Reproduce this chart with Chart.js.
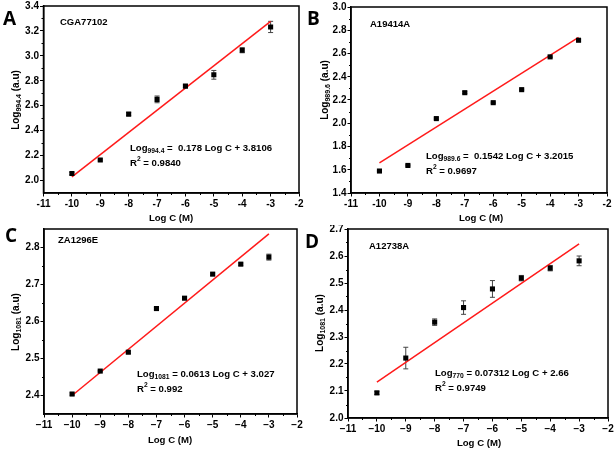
<!DOCTYPE html>
<html>
<head>
<meta charset="utf-8">
<script src="https://cdn.jsdelivr.net/npm/chart.js@4"></script>
<style>
  body { margin: 0; background: #fff; }
  #wrap { position: relative; width: 615px; height: 450px; overflow: hidden; }
  canvas { position: absolute; }
</style>
</head>
<body>
<div id="wrap">
  <canvas id="chartA" width="310" height="225" style="left:0;top:0"></canvas>
  <canvas id="chartB" width="315" height="225" style="left:300px;top:0"></canvas>
  <canvas id="chartC" width="310" height="225" style="left:0;top:225px"></canvas>
  <canvas id="chartD" width="315" height="225" style="left:300px;top:225px"></canvas>
</div>
<script>
// shared x values and ticks
var logC = [-10, -9, -8, -7, -6, -5, -4, -3];
var xTicks = [-11, -10, -9, -8, -7, -6, -5, -4, -3, -2];
var fitX = [-10, -3];

// A - CGA77102
var valuesA = [2.056, 2.165, 2.533, 2.651, 2.757, 2.848, 3.045, 3.232];
var errorsA = [0.010, 0.008, 0.012, 0.027, 0.010, 0.035, 0.020, 0.045];
var fitA = [2.030, 3.277];
var yTicksA = [2.0, 2.2, 2.4, 2.6, 2.8, 3.0, 3.2, 3.4];

// B - A19414A
var valuesB = [1.589, 1.637, 2.040, 2.263, 2.177, 2.289, 2.571, 2.714];
var errorsB = [0.005, 0.005, 0.006, 0.008, 0.005, 0.005, 0.006, 0.008];
var fitB = [1.660, 2.739];
var yTicksB = [1.4, 1.6, 1.8, 2.0, 2.2, 2.4, 2.6, 2.8, 3.0];

// C - ZA1296E
var valuesC = [2.404, 2.466, 2.517, 2.635, 2.663, 2.728, 2.755, 2.774];
var errorsC = [0.003, 0.002, 0.003, 0.003, 0.003, 0.003, 0.003, 0.008];
var fitC = [2.400, 2.837];
var yTicksC = [2.4, 2.5, 2.6, 2.7, 2.8];

// D - A12738A
var valuesD = [2.093, 2.222, 2.355, 2.409, 2.478, 2.518, 2.555, 2.582];
var errorsD = [0.006, 0.040, 0.012, 0.025, 0.031, 0.010, 0.010, 0.018];
var fitD = [2.133, 2.645];
var yTicksD = [2.0, 2.1, 2.2, 2.3, 2.4, 2.5, 2.6, 2.7];

var FONT = '"Liberation Sans", Arial, sans-serif';

function drawRich(ctx, x, y, parts, size, align) {
    // parts: [text, mode] mode 0 normal, 1 sub, 2 sup
    var total = 0;
    parts.forEach(function (p) {
        ctx.font = 'bold ' + (p[1] ? size * 0.7 : size) + 'px ' + FONT;
        total += ctx.measureText(p[0]).width;
    });
    var cx = align === 'center' ? x - total / 2 : x;
    ctx.textBaseline = 'middle';
    ctx.textAlign = 'left';
    parts.forEach(function (p) {
        var s = p[1] ? size * 0.7 : size;
        ctx.font = 'bold ' + s + 'px ' + FONT;
        var dy = p[1] === 1 ? size * 0.3 : (p[1] === 2 ? -size * 0.35 : 0);
        ctx.fillText(p[0], cx, y + dy);
        cx += ctx.measureText(p[0]).width;
    });
}

var panelDecor = {
    id: 'panelDecor',
    beforeDatasetsDraw: function (chart) {
        var p = chart.options.plugins.panelDecor;
        var ctx = chart.ctx, xs = chart.scales.x, ys = chart.scales.y;
        ctx.save();
        ctx.strokeStyle = '#444';
        ctx.lineWidth = 1;
        p.values.forEach(function (v, i) {
            var px = xs.getPixelForValue(logC[i]);
            var t = ys.getPixelForValue(v + p.errors[i]);
            var b = ys.getPixelForValue(v - p.errors[i]);
            ctx.beginPath();
            ctx.moveTo(px, t); ctx.lineTo(px, b);
            ctx.moveTo(px - 2.5, t); ctx.lineTo(px + 2.5, t);
            ctx.moveTo(px - 2.5, b); ctx.lineTo(px + 2.5, b);
            ctx.stroke();
        });
        ctx.restore();
    },
    afterDraw: function (chart) {
        var p = chart.options.plugins.panelDecor;
        var ctx = chart.ctx, a = chart.chartArea, xs = chart.scales.x, ys = chart.scales.y;
        ctx.save();
        ctx.strokeStyle = '#000';
        ctx.lineWidth = 1.5;
        ctx.strokeRect(a.left, a.top, a.right - a.left, a.bottom - a.top);
        // minor ticks
        ctx.lineWidth = 1;
        ctx.beginPath();
        for (var xv = -10.5; xv < -2; xv += 1) {
            var px = Math.round(xs.getPixelForValue(xv)) + 0.5;
            ctx.moveTo(px, a.bottom); ctx.lineTo(px, a.bottom + 2);
        }
        var ticks = p.yTicks;
        for (var i = 0; i < ticks.length - 1; i++) {
            var py = Math.round(ys.getPixelForValue((ticks[i] + ticks[i + 1]) / 2)) + 0.5;
            ctx.moveTo(a.left, py); ctx.lineTo(a.left - 2, py);
        }
        var below = ticks[0] - (ticks[1] - ticks[0]) / 2;
        if (below > ys.min) {
            var pb = Math.round(ys.getPixelForValue(below)) + 0.5;
            ctx.moveTo(a.left, pb); ctx.lineTo(a.left - 2, pb);
        }
        ctx.stroke();

        ctx.fillStyle = '#000';
        // panel letter
        ctx.font = 'bold 19px "Open Sans", ' + FONT;
        ctx.textAlign = 'left';
        ctx.textBaseline = 'middle';
        ctx.fillText(p.letter, p.letterPos[0], p.letterPos[1]);
        // sample name
        ctx.font = 'bold 9.5px ' + FONT;
        ctx.fillText(p.name, p.namePos[0], p.namePos[1]);
        // equation and R2
        drawRich(ctx, p.eqPos[0], p.eqPos[1], [['Log', 0], [p.band, 1], [p.eq, 0]], 9.6, 'left');
        drawRich(ctx, p.eqPos[0], p.eqPos[1] + 15, [['R', 0], ['2', 2], [' = ' + p.r2, 0]], 9.6, 'left');
        // x title
        ctx.font = 'bold 9.6px ' + FONT;
        ctx.textAlign = 'center';
        ctx.fillText('Log C (M)', p.xTitlePos[0], p.xTitlePos[1]);
        // y title
        ctx.translate(p.yTitlePos[0], p.yTitlePos[1]);
        ctx.rotate(-Math.PI / 2);
        drawRich(ctx, 0, 0, [['Log', 0], [p.yBand, 1], [' (a.u)', 0]], 10, 'center');
        ctx.restore();
    }
};

function makePanel(id, d) {
    var ctx = document.getElementById(id).getContext('2d');
    return new Chart(ctx, {
        type: 'scatter',
        data: {
            datasets: [{
                data: logC.map(function (x, i) { return { x: x, y: d.values[i] }; }),
                pointStyle: 'rect',
                pointRadius: 3.6,
                backgroundColor: '#000',
                borderColor: '#000',
                borderWidth: 0
            }, {
                type: 'line',
                data: fitX.map(function (x, i) { return { x: x, y: d.fit[i] }; }),
                borderColor: '#ff1a1a',
                borderWidth: 1.5,
                pointRadius: 0,
                fill: false
            }]
        },
        options: {
            responsive: false,
            animation: false,
            events: [],
            layout: { padding: { left: 0, top: d.pad[0], right: d.pad[1], bottom: 0 } },
            plugins: {
                legend: { display: false },
                tooltip: { enabled: false },
                panelDecor: d
            },
            scales: {
                x: {
                    type: 'linear',
                    min: -11, max: -2,
                    afterBuildTicks: function (s) { s.ticks = xTicks.map(function (v) { return { value: v }; }); },
                    afterFit: function (s) { s.height = d.xH; s.paddingLeft = 0; s.paddingRight = 0; },
                    ticks: {
                        color: '#000',
                        padding: 2,
                        maxRotation: 0,
                        font: { family: FONT, size: 10, weight: 'bold' },
                        callback: function (v) { return (v < 0 ? d.minus : '') + Math.abs(v); }
                    },
                    grid: { drawOnChartArea: false, tickLength: 3.5, color: '#000', lineWidth: 1 },
                    border: { color: '#000', width: 1.5 }
                },
                y: {
                    type: 'linear',
                    min: d.yMin, max: d.yMax,
                    afterBuildTicks: function (s) { s.ticks = d.yTicks.map(function (v) { return { value: v }; }); },
                    afterFit: function (s) { s.width = d.yW; s.paddingTop = 0; s.paddingBottom = 0; },
                    ticks: {
                        color: '#000',
                        padding: 1,
                        font: { family: FONT, size: 10, weight: 'bold' },
                        callback: function (v) { return v.toFixed(1); }
                    },
                    grid: { drawOnChartArea: false, tickLength: 3.5, color: '#000', lineWidth: 1 },
                    border: { color: '#000', width: 1.5 }
                }
            }
        },
        plugins: [panelDecor]
    });
}

makePanel('chartA', {
    values: valuesA, errors: errorsA, fit: fitA, yTicks: yTicksA,
    yMin: 1.9, yMax: 3.4, yW: 43.5, xH: 32, pad: [6, 11], minus: '-',
    letter: 'A', letterPos: [3, 20], name: 'CGA77102', namePos: [60, 22],
    band: '994.4', eq: ' =  0.178 Log C + 3.8106', r2: '0.9840', eqPos: [130, 148],
    yBand: '994.4', yTitlePos: [16, 100], xTitlePos: [171, 218]
});
makePanel('chartB', {
    values: valuesB, errors: errorsB, fit: fitB, yTicks: yTicksB,
    yMin: 1.4, yMax: 3.0, yW: 51, xH: 32, pad: [7, 8], minus: '-',
    letter: 'B', letterPos: [7, 20], name: 'A19414A', namePos: [70, 24],
    band: '989.6', eq: ' =  0.1542 Log C + 3.2015', r2: '0.9697', eqPos: [126, 156],
    yBand: '989.6', yTitlePos: [25, 90], xTitlePos: [181, 218]
});
makePanel('chartC', {
    values: valuesC, errors: errorsC, fit: fitC, yTicks: yTicksC,
    yMin: 2.35, yMax: 2.85, yW: 44, xH: 36, pad: [1, 13], minus: '\u2212',
    letter: 'C', letterPos: [5, 12], name: 'ZA1296E', namePos: [58, 15],
    band: '1081', eq: ' = 0.0613 Log C + 3.027', r2: '0.992', eqPos: [137, 149],
    yBand: '1081', yTitlePos: [16, 97], xTitlePos: [170, 215]
});
makePanel('chartD', {
    values: valuesD, errors: errorsD, fit: fitD, yTicks: yTicksD,
    yMin: 2.0, yMax: 2.7, yW: 48, xH: 32, pad: [1, 7], minus: '\u2212',
    letter: 'D', letterPos: [5, 18], name: 'A12738A', namePos: [69, 21],
    band: '770', eq: ' = 0.07312 Log C + 2.66', r2: '0.9749', eqPos: [135, 148],
    yBand: '1081', yTitlePos: [20, 98], xTitlePos: [179, 218]
});
</script>
</body>
</html>
